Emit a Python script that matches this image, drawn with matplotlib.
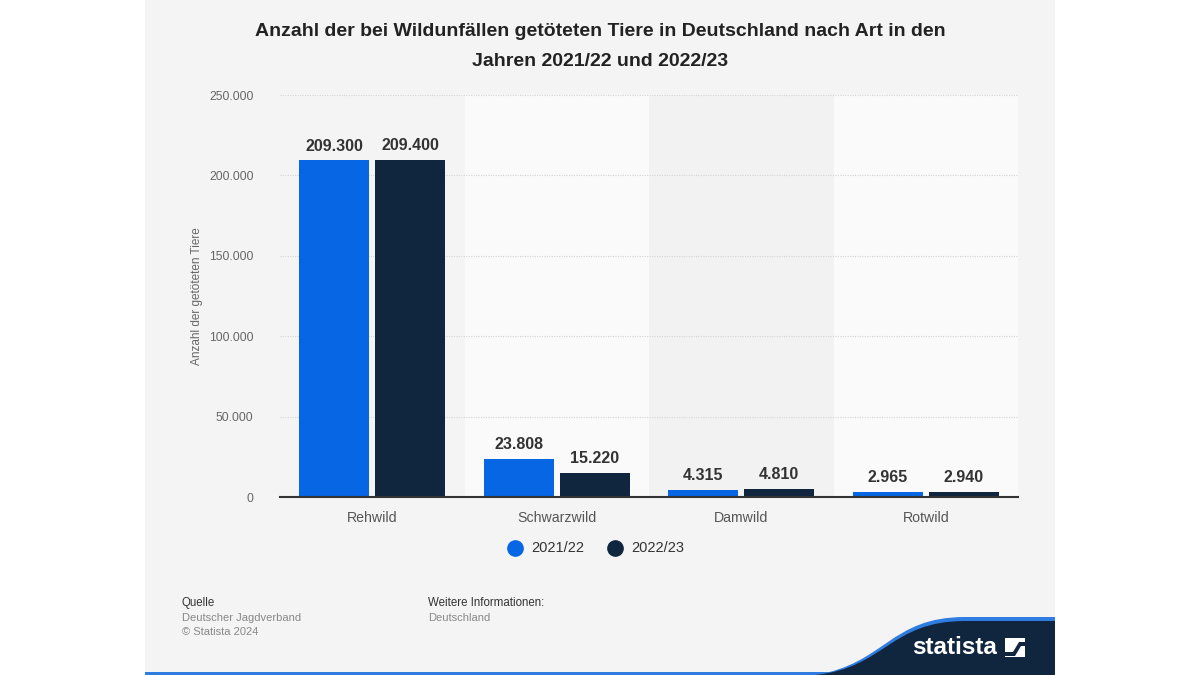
import matplotlib.pyplot as plt
import numpy as np
from matplotlib.path import Path
from matplotlib.patches import PathPatch, Rectangle, Polygon

plt.rcParams['font.family'] = ['Liberation Sans', 'DejaVu Sans']

categories = ['Rehwild', 'Schwarzwild', 'Damwild', 'Rotwild']
values_2122 = [209300, 23808, 4315, 2965]
values_2223 = [209400, 15220, 4810, 2940]
series_labels = ['2021/22', '2022/23']
yticks = [0, 50000, 100000, 150000, 200000, 250000]

W, H = 1200, 675
blue = '#0666e4'
navy = '#10263f'
panel = '#f4f4f4'


def px(x, y):
    # pixel coords (top-left origin) -> figure fraction
    return (x / W, 1 - y / H)


def fmt(v):
    return f"{v:,}".replace(",", ".")


fig = plt.figure(figsize=(12, 6.75), dpi=100)
fig.patch.set_facecolor('white')

# grey card
fig.patches.append(Rectangle(px(145, 675), 910 / W, 675 / H, transform=fig.transFigure,
                             facecolor=panel, edgecolor='none', zorder=-10))
# blue bottom line
fig.patches.append(Rectangle(px(145, 675), 720 / W, 3 / H, transform=fig.transFigure,
                             facecolor='#2f7de0', edgecolor='none', zorder=-9))


def wave(offset):
    verts = [px(815, 675), px(885, 668 - offset), px(890, 621 - offset), px(965, 621 - offset),
             px(1055, 621 - offset), px(1055, 675), px(815, 675)]
    codes = [Path.MOVETO, Path.CURVE4, Path.CURVE4, Path.CURVE4,
             Path.LINETO, Path.LINETO, Path.CLOSEPOLY]
    return Path(verts, codes)


fig.patches.append(PathPatch(wave(4), transform=fig.transFigure, facecolor='#2f7de0',
                             edgecolor='none', zorder=-8))
fig.patches.append(PathPatch(wave(0), transform=fig.transFigure, facecolor=navy,
                             edgecolor='none', zorder=-7))
fig.text(*px(955, 648), 'statista', color='white', fontsize=17.5, fontweight='bold',
         ha='center', va='center')
fig.patches.append(Rectangle(px(1005, 657), 20 / W, 19 / H, transform=fig.transFigure,
                             facecolor='white', edgecolor='none'))
fig.patches.append(Polygon([px(1005, 652), px(1013, 652), px(1019, 642), px(1025, 642),
                            px(1025, 646), px(1021, 646), px(1015, 656), px(1005, 656)],
                           closed=True, transform=fig.transFigure, facecolor=navy,
                           edgecolor='none'))

ax = fig.add_axes([280 / W, 1 - 497 / H, 738 / W, 402 / H])
ax.set_facecolor(panel)

x = np.arange(len(categories))
width = 0.38
band_colors = [panel, '#fafafa', '#f2f2f2', '#fafafa']
for i, c in enumerate(band_colors):
    ax.axvspan(i - 0.5, i + 0.5, facecolor=c, edgecolor='none', zorder=0)

for t in yticks[1:]:
    ax.axhline(t, color='#d4d4d4', lw=0.8, ls=(0, (1, 1.2)), zorder=1)

rects1 = ax.bar(x - 0.206, values_2122, width, color=blue, label=series_labels[0], zorder=3)
rects2 = ax.bar(x + 0.206, values_2223, width, color=navy, label=series_labels[1], zorder=3)

ax.bar_label(rects1, labels=[fmt(v) for v in values_2122], padding=5, fontsize=11.5,
             fontweight='bold', color='#333333')
ax.bar_label(rects2, labels=[fmt(v) for v in values_2223], padding=5, fontsize=11.5,
             fontweight='bold', color='#333333')

ax.set_xlim(-0.5, 3.5)
ax.set_ylim(0, 250000)
ax.set_yticks(yticks, [fmt(t) for t in yticks])
ax.set_xticks(x, categories)
ax.tick_params(axis='y', length=0, pad=19, labelsize=8.8, labelcolor='#666666')
ax.tick_params(axis='x', length=0, pad=10, labelsize=10.2, labelcolor='#555555')
for s in ['top', 'right', 'left']:
    ax.spines[s].set_visible(False)
ax.spines['bottom'].set_color('#333333')
ax.spines['bottom'].set_linewidth(1.5)
ax.spines['bottom'].set_zorder(5)

ax.set_ylabel('Anzahl der getöteten Tiere', fontsize=8.5, color='#666666')
ax.yaxis.set_label_coords(-0.105, 0.5)

fig.text(*px(600, 32), 'Anzahl der bei Wildunfällen getöteten Tiere in Deutschland nach Art in den',
         fontsize=14, fontweight='bold', color='#222222', ha='center', va='center')
fig.text(*px(600, 61), 'Jahren 2021/22 und 2022/23',
         fontsize=14, fontweight='bold', color='#222222', ha='center', va='center')

# legend
for lx, col, lab in [(515, blue, series_labels[0]), (615, navy, series_labels[1])]:
    fig.lines.append(plt.Line2D([lx / W], [1 - 548 / H], marker='o', markersize=11,
                                color=col, transform=fig.transFigure))
    fig.text(*px(lx + 16, 548), lab, fontsize=10.5, color='#333333', va='center')

# footer
fig.text(*px(182, 603), 'Quelle', fontsize=8.3, color='#333333', va='center')
fig.text(*px(182, 618), 'Deutscher Jagdverband', fontsize=8, color='#888888', va='center')
fig.text(*px(182, 632), '© Statista 2024', fontsize=8, color='#888888', va='center')
fig.text(*px(428, 603), 'Weitere Informationen:', fontsize=8.3, color='#333333', va='center')
fig.text(*px(428, 618), 'Deutschland', fontsize=8, color='#888888', va='center')

fig.savefig('out.png', dpi=100)
